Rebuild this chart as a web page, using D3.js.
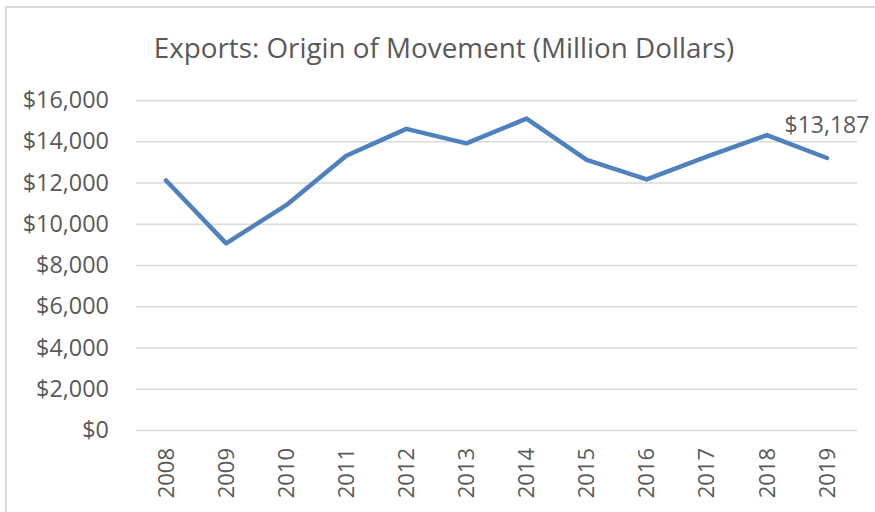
<!DOCTYPE html>
<html>
<head>
<meta charset="utf-8">
<script src="https://cdn.jsdelivr.net/npm/d3@7"></script>
<style>
  body { margin: 0; background: #fff; }
  text { font-family: "Open Sans", sans-serif; fill: #595959; }
</style>
</head>
<body>
<svg width="875" height="512"></svg>
<script>
// values
const years = ['2008', '2009', '2010', '2011', '2012', '2013', '2014', '2015', '2016', '2017', '2018', '2019'];
const exports = [12100, 9050, 10900, 13300, 14600, 13900, 15100, 13100, 12150, 13250, 14300, 13187];
const yTicks = [0, 2000, 4000, 6000, 8000, 10000, 12000, 14000, 16000];
const title = 'Exports: Origin of Movement (Million Dollars)';

const svg = d3.select('svg');
const plot = {left: 136, right: 857, top: 100, bottom: 430};

// chart frame (right and bottom edges fall outside the picture)
svg.append('rect')
    .attr('x', 6).attr('y', 7)
    .attr('width', 880).attr('height', 520)
    .attr('fill', 'none')
    .attr('stroke', '#d9d9d9')
    .attr('stroke-width', 2);

const x = d3.scaleBand().domain(years).range([plot.left, plot.right]);
const y = d3.scaleLinear().domain([0, 16000]).range([plot.bottom, plot.top]);

svg.append('text')
    .attr('x', 444).attr('y', 58)
    .attr('text-anchor', 'middle')
    .style('font-size', '27.8px')
    .text(title);

// y axis: gridlines + labels
const yAxis = svg.append('g')
    .attr('transform', `translate(${plot.left},0)`)
    .call(d3.axisLeft(y).tickValues(yTicks)
        .tickSize(-(plot.right - plot.left))
        .tickPadding(27)
        .tickFormat(d => '$' + d3.format(',')(d)));
yAxis.select('.domain').remove();
yAxis.selectAll('line').attr('stroke', '#d9d9d9').attr('stroke-width', 1.5);
yAxis.selectAll('text').style('font-size', '23.4px').attr('fill', '#595959');

// x axis labels, rotated
const xAxis = svg.append('g')
    .attr('transform', `translate(0,${plot.bottom})`)
    .call(d3.axisBottom(x).tickSize(0).tickPadding(0));
xAxis.select('.domain').remove();
xAxis.selectAll('text')
    .style('font-size', '22px')
    .attr('fill', '#595959')
    .attr('text-anchor', 'end')
    .attr('transform', 'rotate(-90)')
    .attr('x', -18)
    .attr('y', 0)
    .attr('dy', '0.35em');

const line = d3.line()
    .x((d, i) => x(years[i]) + x.bandwidth() / 2)
    .y(d => y(d));

svg.append('path')
    .datum(exports)
    .attr('d', line)
    .attr('fill', 'none')
    .attr('stroke', '#4f81bd')
    .attr('stroke-width', 4.5)
    .attr('stroke-linejoin', 'round')
    .attr('stroke-linecap', 'round');

// label on the last point
const last = exports.length - 1;
svg.append('text')
    .attr('x', x(years[last]) + x.bandwidth() / 2)
    .attr('y', y(exports[last]) - 25.5)
    .attr('text-anchor', 'middle')
    .style('font-size', '23px')
    .text('$' + d3.format(',')(exports[last]));
</script>
</body>
</html>
